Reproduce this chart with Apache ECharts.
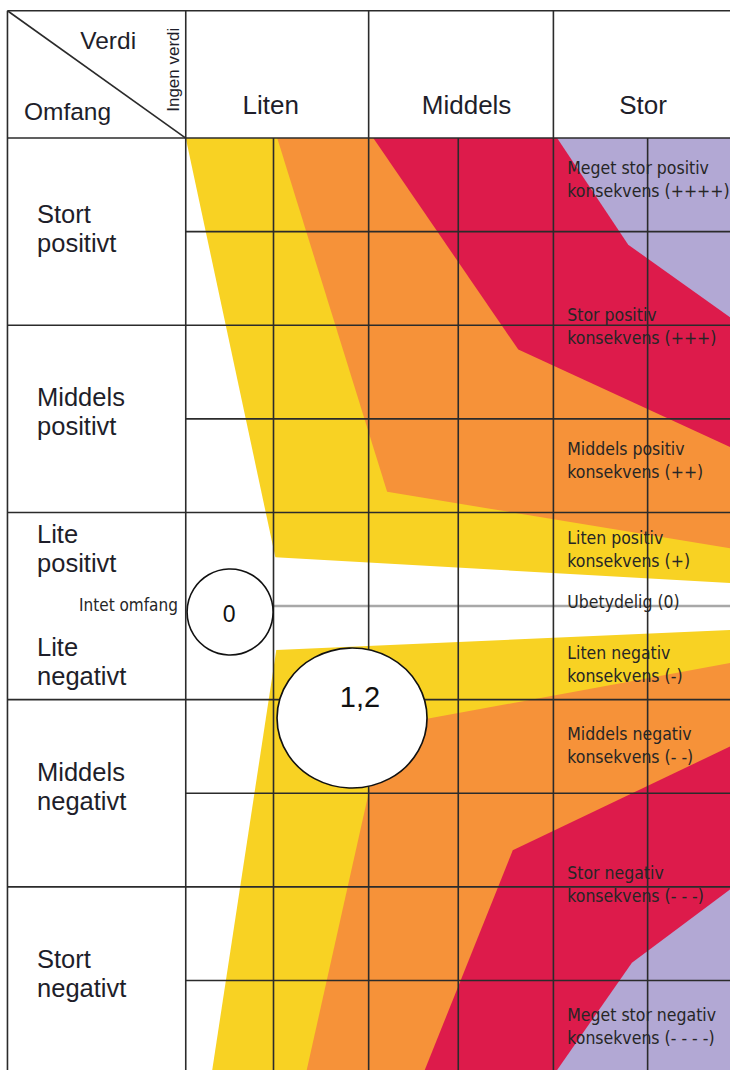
<!DOCTYPE html>
<html><head><meta charset="utf-8">
<script src="https://cdn.jsdelivr.net/npm/echarts@6/dist/echarts.min.js"></script>
<style>html,body{margin:0;padding:0;background:#fff}#c{width:730px;height:1070px}</style>
</head><body><div id="c"></div>
<script>
// ---------- DATA (value units: x = "Verdi" columns, y = "Omfang" rows; 0 = intet omfang) ----------
const xRange = [-2, 6];
const yRange = [-5, 6.4];

// consequence bands, polygon vertices
const bandYellowTop      = [[0, 5], [0.97, 0.52], [6, 0.24], [6, 5]];
const bandOrangeTop      = [[0.99, 5], [2.18, 1.22], [6, 0.6], [6, 5]];
const bandRedTop         = [[2.03, 5], [3.6, 2.74], [6, 1.65], [6, 5]];
const bandLavenderTop    = [[4.02, 5], [4.79, 3.86], [6, 3.01], [6, 5]];
const bandYellowBottom   = [[0.98, -0.47], [6, -0.25], [6, -5], [0.28, -5]];
const bandOrangeBottom   = [[2.14, -1.29], [6, -0.59], [6, -5], [1.3, -5]];
const bandRedBottom      = [[3.54, -2.61], [6, -1.45], [6, -5], [2.57, -5]];
const bandLavenderBottom = [[4.83, -3.81], [6, -2.95], [6, -5], [3.99, -5]];
const bandLevels = ['liten', 'middels', 'stor', 'megetStor', 'liten', 'middels', 'stor', 'megetStor'];
const bands = [bandYellowTop, bandOrangeTop, bandRedTop, bandLavenderTop,
               bandYellowBottom, bandOrangeBottom, bandRedBottom, bandLavenderBottom];

// table frame
const frameLeft = -1.93, frameTop = 6.36, headerBottom = 5, tableRight = 6, tableBottom = -5;
const verdiColumnLines = [0, 1.98, 3.98];          // full-height lines (header + body)
const subColumnLines = [0.95, 2.95, 5];            // body-only lines
const omfangRowLines = [5, 3, 1, -1, -3];          // full-width lines
const subRowLines = [4, 2, -2, -4];                // body-only lines
const zeroLine = [0.95, 0];                        // Ubetydelig (0) line start x, y

// headers
const verdiLabels = ['Liten', 'Middels', 'Stor'];
const verdiLabelX = [0.92, 3.04, 4.95];
const verdiLabelY = 5.35;
const cornerLabels = ['Verdi', 'Omfang'];
const cornerLabelPos = [[-0.84, 6.04], [-1.28, 5.28]];
const ingenVerdiLabel = 'Ingen verdi';
const ingenVerdiPos = [-0.13, 5.73];

// omfang (row) labels
const omfangLabels = ['Stort\npositivt', 'Middels\npositivt', 'Lite\npositivt', 'Lite\nnegativt', 'Middels\nnegativt', 'Stort\nnegativt'];
const omfangLabelY = [4.03, 2.08, 0.62, -0.59, -1.93, -3.93];
const omfangLabelX = -1.61;
const intetOmfangLabel = 'Intet omfang';
const intetOmfangPos = [-0.085, 0.01];

// consequence labels
const consequenceLabels = [
  'Meget stor positiv\nkonsekvens (++++)',
  'Stor positiv\nkonsekvens (+++)',
  'Middels positiv\nkonsekvens (++)',
  'Liten positiv\nkonsekvens (+)',
  'Ubetydelig (0)',
  'Liten negativ\nkonsekvens (-)',
  'Middels negativ\nkonsekvens (- -)',
  'Stor negativ\nkonsekvens (- - -)',
  'Meget stor negativ\nkonsekvens (- - - -)'
];
const consequenceY = [4.56, 2.99, 1.56, 0.6, 0.04, -0.62, -1.485, -2.97, -4.49];
const consequenceX = 4.13;

// example markers
const markerLabels = ['0', '1,2'];
const markerPos = [[0.48, -0.064], [1.8, -1.197]];

// ---------- STYLES ----------
const bandColor = { liten: '#F8D223', middels: '#F69239', stor: '#DD1B4B', megetStor: '#B2A8D4' };
const lineColor = '#2b2b2b';
const textColor = '#1e1e2a';
const markerSizes = [[86, 86], [150, 140]];
const markerLabelOffset = [[-1, 2], [8, -21]];
const markerFont = [23, 29];
const sansFont = '"Liberation Sans",Arial,sans-serif';
const narrowFont = '"Liberation Sans Narrow","DejaVu Sans Condensed","Arial Narrow",sans-serif';

// ---------- BUILD ----------
const gridLines = [];
gridLines.push([frameLeft, frameTop, tableRight, frameTop]);
omfangRowLines.forEach(y => gridLines.push([frameLeft, y, tableRight, y]));
subRowLines.forEach(y => gridLines.push([0, y, tableRight, y]));
gridLines.push([frameLeft, frameTop, frameLeft, tableBottom]);
verdiColumnLines.forEach(x => gridLines.push([x, frameTop, x, tableBottom]));
subColumnLines.forEach(x => gridLines.push([x, headerBottom, x, tableBottom]));
gridLines.push([frameLeft, frameTop, 0, headerBottom]); // diagonal

const texts = [];
verdiLabels.forEach((t, i) => texts.push({ t, p: [verdiLabelX[i], verdiLabelY], size: 26, align: 'center' }));
cornerLabels.forEach((t, i) => texts.push({ t, p: cornerLabelPos[i], size: 24.5, align: 'center' }));
texts.push({ t: ingenVerdiLabel, p: ingenVerdiPos, size: 17, align: 'center', rot: Math.PI / 2 });
omfangLabels.forEach((t, i) => texts.push({ t, p: [omfangLabelX, omfangLabelY[i]], size: 25.5, align: 'left', lh: 29 }));
texts.push({ t: intetOmfangLabel, p: intetOmfangPos, size: 17, align: 'right', narrow: true });
consequenceLabels.forEach((t, i) => texts.push({ t, p: [consequenceX, consequenceY[i]], size: 17.5, align: 'left', lh: 23, narrow: true }));

const chart = echarts.init(document.getElementById('c'), null, { renderer: 'svg' });
chart.setOption({
  animation: false,
  backgroundColor: '#fff',
  grid: { left: 1, top: 7, width: 739, height: 1067.04, outerBoundsMode: 'none', containLabel: false },
  xAxis: { type: 'value', min: xRange[0], max: xRange[1], show: false },
  yAxis: { type: 'value', min: yRange[0], max: yRange[1], show: false },
  series: [
    {
      type: 'custom', name: 'bands', z: 1, silent: true, clip: false,
      data: bands.map((b, i) => [b[0][0], b[0][1], i]),
      renderItem: (params, api) => {
        const poly = bands[params.dataIndex];
        return {
          type: 'polygon',
          shape: { points: poly.map(pt => api.coord(pt)) },
          style: { fill: bandColor[bandLevels[params.dataIndex]], stroke: null }
        };
      }
    },
    {
      type: 'custom', name: 'zero', z: 2, silent: true,
      data: [zeroLine],
      renderItem: (params, api) => {
        const a = api.coord([api.value(0), api.value(1)]);
        const b = api.coord([tableRight, api.value(1)]);
        return { type: 'line', shape: { x1: a[0], y1: a[1], x2: b[0], y2: b[1] }, style: { stroke: '#a8a8a8', lineWidth: 2.5 } };
      }
    },
    {
      type: 'custom', name: 'grid', z: 3, silent: true,
      data: gridLines,
      renderItem: (params, api) => {
        const a = api.coord([api.value(0), api.value(1)]);
        const b = api.coord([api.value(2), api.value(3)]);
        return { type: 'line', shape: { x1: a[0], y1: a[1], x2: b[0], y2: b[1] }, style: { stroke: lineColor, lineWidth: 1.6 } };
      }
    },
    {
      type: 'custom', name: 'texts', z: 4, silent: true,
      data: texts.map(o => o.p),
      renderItem: (params, api) => {
        const o = texts[params.dataIndex];
        const p = api.coord(o.p);
        return {
          type: 'text', x: p[0], y: p[1], rotation: o.rot || 0,
          style: {
            text: o.t, fill: o.narrow ? '#262626' : textColor,
            fontSize: o.size,
            fontFamily: o.narrow ? narrowFont : sansFont,
            align: o.align, verticalAlign: 'middle', lineHeight: o.lh || o.size * 1.2
          }
        };
      }
    },
    {
      type: 'scatter', name: 'markers', z: 5, silent: true,
      data: markerPos.map((p, i) => ({
        value: p, symbolSize: markerSizes[i],
        label: { show: true, formatter: markerLabels[i], offset: markerLabelOffset[i], fontSize: markerFont[i] }
      })),
      symbol: 'circle',
      itemStyle: { color: '#fff', borderColor: '#111', borderWidth: 1.6, opacity: 1 },
      label: { position: 'inside', color: '#111', fontFamily: sansFont }
    }
  ]
});
</script></body></html>
